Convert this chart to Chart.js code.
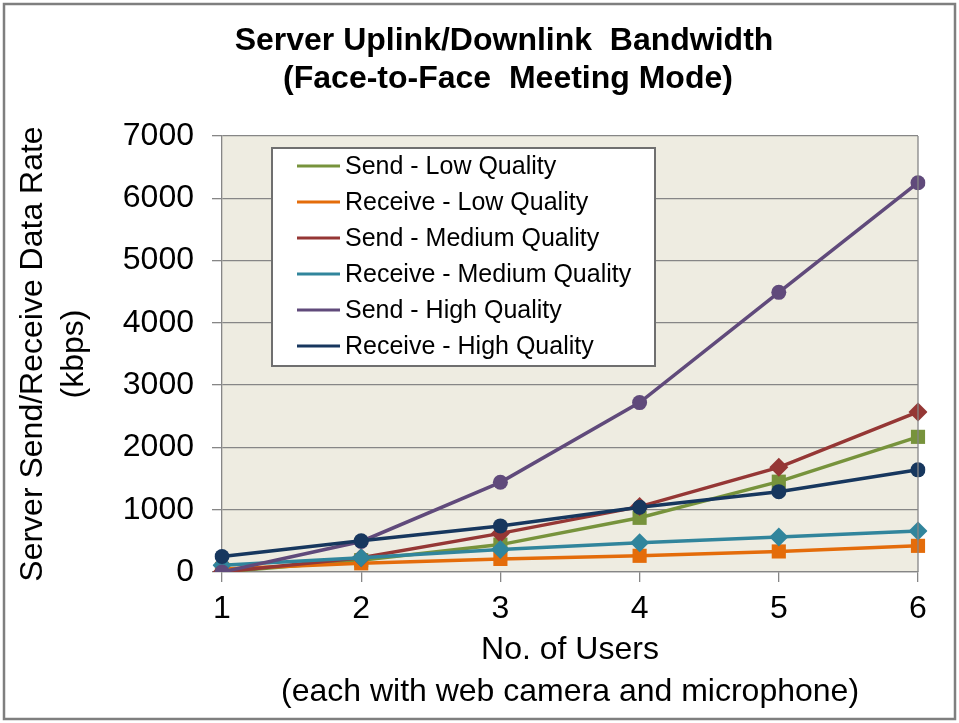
<!DOCTYPE html>
<html>
<head>
<meta charset="utf-8">
<script src="https://cdn.jsdelivr.net/npm/chart.js@4.4.0/dist/chart.umd.min.js"></script>
<style>
  body { margin: 0; background: #fff; }
  #wrap { width: 959px; height: 723px; position: relative; }
</style>
</head>
<body>
<div id="wrap"><canvas id="myChart" width="959" height="723"></canvas></div>
<script>
const users = ['1', '2', '3', '4', '5', '6'];
const sendLow = [0, 190, 440, 870, 1450, 2170];
const receiveLow = [50, 140, 210, 260, 330, 420];
const sendMedium = [0, 230, 620, 1050, 1680, 2570];
const receiveMedium = [110, 230, 360, 470, 560, 660];
const sendHigh = [0, 490, 1440, 2720, 4490, 6250];
const receiveHigh = [250, 500, 740, 1040, 1290, 1640];
const seriesNames = ['Send - Low Quality', 'Receive - Low Quality', 'Send - Medium Quality',
    'Receive - Medium Quality', 'Send - High Quality', 'Receive - High Quality'];
const titleLines = ['Server Uplink/Downlink  Bandwidth', '(Face-to-Face  Meeting Mode)'];

const FONT = "'Liberation Sans', Arial, sans-serif";
const GRID = '#868686';

function makeSet(i, data, color, style, radius) {
    return {
        label: seriesNames[i],
        data: data,
        borderColor: color,
        backgroundColor: color,
        borderWidth: 3.5,
        pointStyle: style,
        pointRadius: radius,
        pointHoverRadius: radius,
        pointBorderWidth: 0,
        order: 6 - i,
        tension: 0
    };
}

// page frame, title, plot background, right border of plot
const framePlugin = {
    id: 'frame',
    beforeDraw(chart) {
        const ctx = chart.ctx;
        const a = chart.chartArea;
        ctx.save();
        ctx.fillStyle = '#fff';
        ctx.fillRect(0, 0, chart.width, chart.height);
        ctx.strokeStyle = '#7f7f7f';
        ctx.lineWidth = 2.5;
        ctx.strokeRect(4, 4, chart.width - 8, chart.height - 8);
        ctx.fillStyle = '#EEECE1';
        ctx.fillRect(a.left, a.top, a.right - a.left, a.bottom - a.top);

        ctx.fillStyle = '#000';
        ctx.font = 'bold 32px ' + FONT;
        ctx.textAlign = 'center';
        ctx.textBaseline = 'middle';
        ctx.fillText(titleLines[0], 504, 41);
        ctx.fillText(titleLines[1], 508, 79);
        ctx.restore();
    },
    afterDatasetsDraw(chart) {
        const ctx = chart.ctx;
        const a = chart.chartArea;
        ctx.save();
        ctx.strokeStyle = GRID;
        ctx.lineWidth = 1.3;
        ctx.beginPath();
        ctx.moveTo(a.right, a.top);
        ctx.lineTo(a.right, a.bottom);
        ctx.stroke();
        ctx.restore();
    }
};

// boxed legend inside the plot, like the original
const boxLegend = {
    id: 'boxLegend',
    afterDraw(chart) {
        const ctx = chart.ctx;
        const x0 = 272, y0 = 148, w = 383, h = 218;
        ctx.save();
        ctx.fillStyle = '#fff';
        ctx.fillRect(x0, y0, w, h);
        ctx.strokeStyle = '#6f6f6f';
        ctx.lineWidth = 2;
        ctx.strokeRect(x0, y0, w, h);
        ctx.font = '25px ' + FONT;
        ctx.textBaseline = 'middle';
        chart.data.datasets.forEach((ds, i) => {
            const y = 166 + i * 36;
            ctx.strokeStyle = ds.borderColor;
            ctx.lineWidth = 3;
            ctx.beginPath();
            ctx.moveTo(297, y);
            ctx.lineTo(340, y);
            ctx.stroke();
            Chart.helpers.drawPoint(ctx, {
                pointStyle: ds.pointStyle, rotation: 0, borderWidth: 0
            }, 319, y, ds.pointRadius * 0.8);
            ctx.fillStyle = ds.borderColor;
            ctx.fill();
            ctx.fillStyle = '#000';
            ctx.fillText(ds.label, 345, y + 1);
        });
        ctx.restore();
    }
};

new Chart(document.getElementById('myChart'), {
    type: 'line',
    data: {
        labels: users,
        datasets: [
            makeSet(0, sendLow, '#77933C', 'rect', 10),
            makeSet(1, receiveLow, '#E46C0A', 'rect', 10),
            makeSet(2, sendMedium, '#953735', 'rectRot', 9.5),
            makeSet(3, receiveMedium, '#31859C', 'rectRot', 9.5),
            makeSet(4, sendHigh, '#604A7B', 'circle', 7.5),
            makeSet(5, receiveHigh, '#17375E', 'circle', 7.5)
        ]
    },
    options: {
        responsive: false,
        animation: false,
        layout: { padding: { left: 0, right: 41, top: 136, bottom: 10 } },
        plugins: {
            legend: { display: false },
            tooltip: { enabled: false },
            title: { display: false }
        },
        scales: {
            x: {
                offset: false,
                grid: { drawOnChartArea: false, color: GRID, lineWidth: 1.3, tickLength: 10 },
                border: { color: GRID, width: 1.3 },
                ticks: { color: '#000', font: { family: FONT, size: 32 }, padding: 8 },
                title: {
                    display: true,
                    text: ['No. of Users', '(each with web camera and microphone)'],
                    color: '#000',
                    font: { family: FONT, size: 32, lineHeight: 1.3 },
                    padding: 0
                },
                afterFit(s) { s.height = 723 - 572 - 10; }
            },
            y: {
                min: 0,
                max: 7000,
                ticks: {
                    stepSize: 1000, color: '#000', font: { family: FONT, size: 32 }, padding: 18,
                    callback: v => String(v)
                },
                grid: { color: GRID, lineWidth: 1.3, tickLength: 10 },
                border: { color: GRID, width: 1.3 },
                title: {
                    display: true,
                    text: ['Server Send/Receive Data Rate', '(kbps)'],
                    color: '#000',
                    font: { family: FONT, size: 32, lineHeight: 1.3 },
                    padding: { top: 12, bottom: 0 }
                },
                afterFit(s) { s.width = 222; }
            }
        }
    },
    plugins: [framePlugin, boxLegend]
});
</script>
</body>
</html>
